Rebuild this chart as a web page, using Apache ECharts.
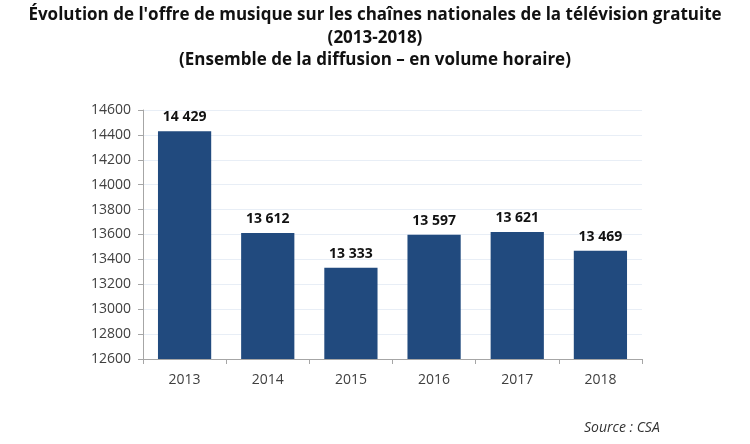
<!DOCTYPE html>
<html><head><meta charset="utf-8">
<script src="https://cdn.jsdelivr.net/npm/echarts@6/dist/echarts.min.js"></script>
<style>html,body{margin:0;padding:0;background:#fff}#c{width:750px;height:444px}</style>
</head><body><div id="c"></div>
<script>
const categories = ['2013','2014','2015','2016','2017','2018'];
const values = [14429, 13612, 13333, 13597, 13621, 13469];
const yTicks = [12600,12800,13000,13200,13400,13600,13800,14000,14200,14400,14600];
const titleLines = ["Évolution de l'offre de musique sur les chaînes nationales de la télévision gratuite", "(2013-2018)", "(Ensemble de la diffusion – en volume horaire)"];
const sourceText = 'Source : CSA';

const titleTops = [7, 30, 52];
const titles = titleLines.map((t,i)=>({
  text:t, left:'center', top:titleTops[i], padding:0,
  textStyle:{fontFamily:'Open Sans', fontWeight:'bold', fontSize:17, color:'#111'}
}));
titles.push({
  text: sourceText, left:584, top:421, padding:0,
  textStyle:{fontFamily:'Open Sans', fontStyle:'italic', fontWeight:'normal', fontSize:14, color:'#333'}
});

const chart = echarts.init(document.getElementById('c'), null, {renderer:'canvas'});
chart.setOption({
  animation:false,
  textStyle:{fontFamily:'Open Sans'},
  title:titles,
  grid:{left:143, right:108, top:110, bottom:85},
  xAxis:{
    type:'category', data:categories,
    axisLine:{lineStyle:{color:'#a6a6a6'}},
    axisTick:{show:true, lineStyle:{color:'#a6a6a6'}, length:5},
    axisLabel:{color:'#404040', fontSize:14, margin:14, fontFamily:'Open Sans'}
  },
  yAxis:{
    type:'value', min:yTicks[0], max:yTicks[yTicks.length-1], interval:200,
    axisLine:{show:true, lineStyle:{color:'#a6a6a6'}},
    axisTick:{show:true, lineStyle:{color:'#a6a6a6'}, length:5},
    axisLabel:{color:'#404040', fontSize:14, margin:12, fontFamily:'Open Sans', formatter:v=>String(v)},
    splitLine:{lineStyle:{color:'#e8eef6'}}
  },
  series:[{
    type:'bar', data:values, barCategoryGap:'36%',
    itemStyle:{color:'#214a7e'},
    label:{show:true, position:'top', distance:7, fontWeight:'bold', fontSize:14, color:'#111', fontFamily:'Open Sans',
      formatter:p=>String(p.value).replace(/\B(?=(\d{3})+(?!\d))/g,' ')}
  }]
});
</script></body></html>
